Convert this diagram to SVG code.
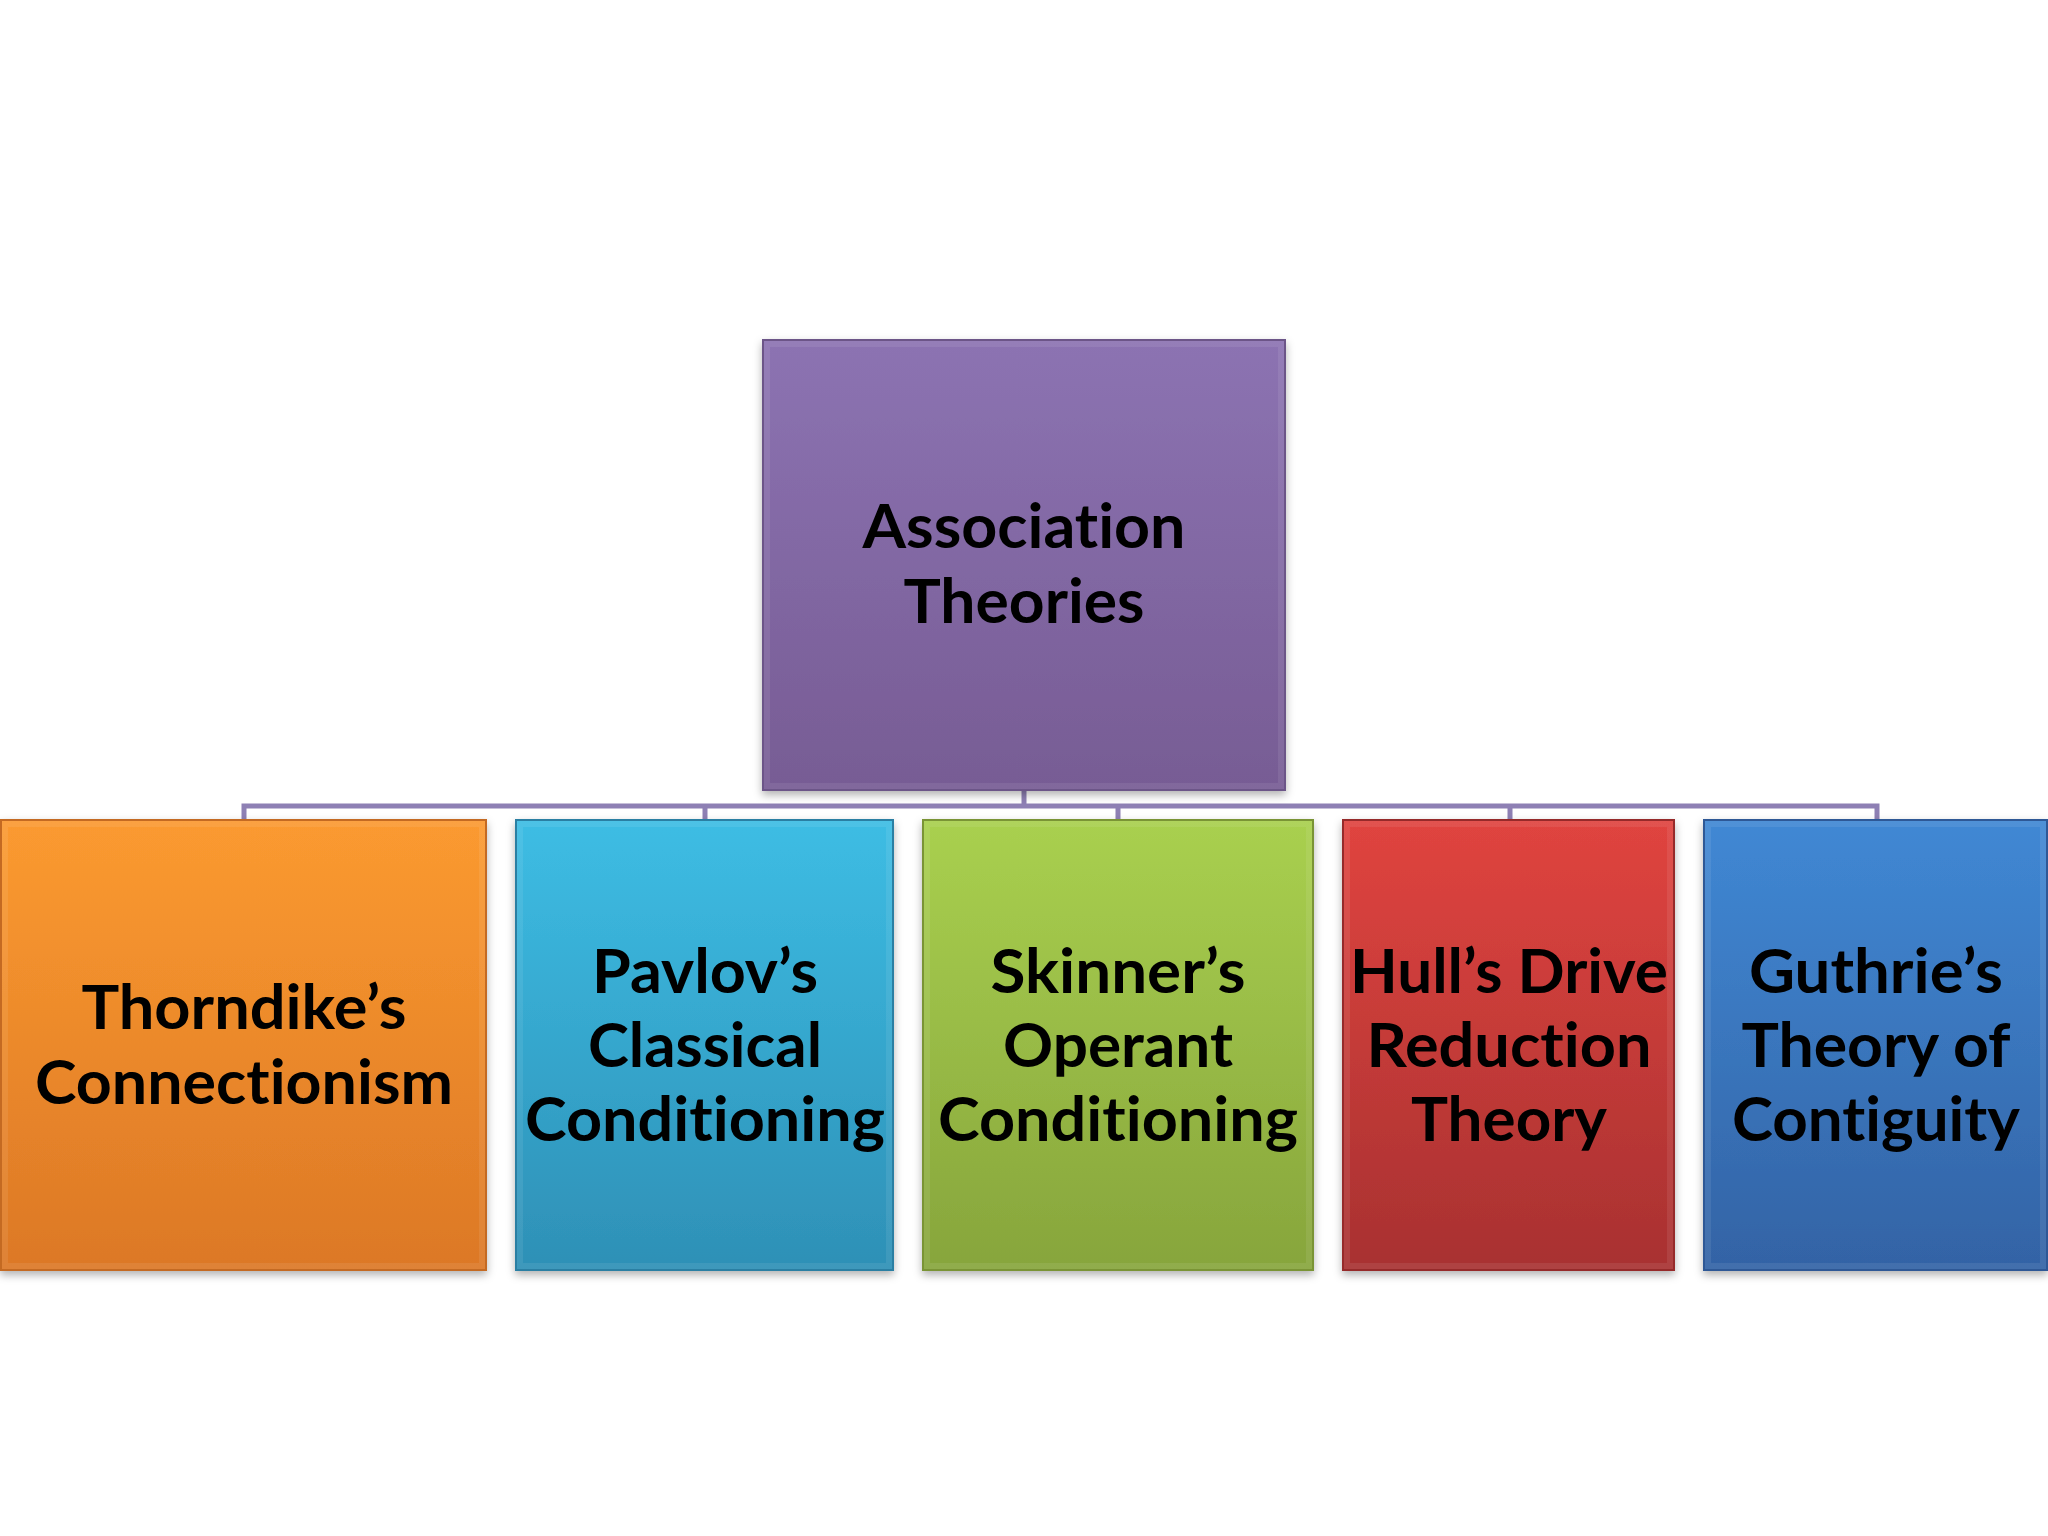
<svg xmlns="http://www.w3.org/2000/svg" width="2048" height="1536" viewBox="0 0 2048 1536">
<defs>
<linearGradient id="gPurple" x1="0" y1="0" x2="0" y2="1"><stop offset="0" stop-color="#8c73b2"/><stop offset="1" stop-color="#775c94"/></linearGradient>
<linearGradient id="gOrange" x1="0" y1="0" x2="0" y2="1"><stop offset="0" stop-color="#fb9a30"/><stop offset="1" stop-color="#dc7826"/></linearGradient>
<linearGradient id="gCyan" x1="0" y1="0" x2="0" y2="1"><stop offset="0" stop-color="#3dbde4"/><stop offset="1" stop-color="#2e90b6"/></linearGradient>
<linearGradient id="gGreen" x1="0" y1="0" x2="0" y2="1"><stop offset="0" stop-color="#a9d04f"/><stop offset="1" stop-color="#87a53c"/></linearGradient>
<linearGradient id="gRed" x1="0" y1="0" x2="0" y2="1"><stop offset="0" stop-color="#e0443f"/><stop offset="1" stop-color="#a83131"/></linearGradient>
<linearGradient id="gBlue" x1="0" y1="0" x2="0" y2="1"><stop offset="0" stop-color="#4088d4"/><stop offset="1" stop-color="#3363a5"/></linearGradient>
<filter id="shadow" x="-5%" y="-5%" width="110%" height="112%">
<feDropShadow dx="0" dy="4" stdDeviation="4" flood-color="#000" flood-opacity="0.3"/>
</filter>
</defs>
<style>
.box{filter:url(#shadow);stroke-width:2}
.bevel{fill:none;stroke:#ffffff;stroke-opacity:0.08;stroke-width:6}
.lbl{font-family:Lato,"Open Sans","Liberation Sans",sans-serif;font-weight:bold;font-size:62px;fill:#000;text-anchor:middle;font-variant-ligatures:none;font-feature-settings:"liga" 0,"clig" 0,"dlig" 0}
.conn{fill:none;stroke:#8e80b4;stroke-width:5}
</style>
<rect width="2048" height="1536" fill="#ffffff"/>
<g id="connectors">
<path class="conn" d="M1024 790 V806 M244 820 V806 H1877 V820 M705 806 V820 M1118 806 V820 M1510 806 V820"/>
</g>
<g id="node-association">
<rect class="box" x="763" y="340" width="522" height="450" fill="url(#gPurple)" stroke="#6c5488"/>
<rect class="bevel" x="767" y="344" width="514" height="442"/>
<text class="lbl" x="1024" y="548" textLength="323" lengthAdjust="spacingAndGlyphs">Association</text>
<text class="lbl" x="1024" y="623" textLength="241" lengthAdjust="spacingAndGlyphs">Theories</text>
</g>
<g id="node-thorndike">
<rect class="box" x="1" y="820" width="485" height="450" fill="url(#gOrange)" stroke="#c46a20"/>
<rect class="bevel" x="5" y="824" width="477" height="442"/>
<text class="lbl" x="244" y="1029" textLength="325" lengthAdjust="spacingAndGlyphs">Thorndike’s</text>
<text class="lbl" x="244" y="1104" textLength="418" lengthAdjust="spacingAndGlyphs">Connectionism</text>
</g>
<g id="node-pavlov">
<rect class="box" x="516" y="820" width="377" height="450" fill="url(#gCyan)" stroke="#2a7fa3"/>
<rect class="bevel" x="520" y="824" width="369" height="442"/>
<text class="lbl" x="705" y="993" textLength="226" lengthAdjust="spacingAndGlyphs">Pavlov’s</text>
<text class="lbl" x="705" y="1067" textLength="234" lengthAdjust="spacingAndGlyphs">Classical</text>
<text class="lbl" x="705" y="1141" textLength="360" lengthAdjust="spacingAndGlyphs">Conditioning</text>
</g>
<g id="node-skinner">
<rect class="box" x="923" y="820" width="390" height="450" fill="url(#gGreen)" stroke="#7a9436"/>
<rect class="bevel" x="927" y="824" width="382" height="442"/>
<text class="lbl" x="1118" y="993" textLength="255" lengthAdjust="spacingAndGlyphs">Skinner’s</text>
<text class="lbl" x="1118" y="1067" textLength="230" lengthAdjust="spacingAndGlyphs">Operant</text>
<text class="lbl" x="1118" y="1141" textLength="360" lengthAdjust="spacingAndGlyphs">Conditioning</text>
</g>
<g id="node-hull">
<rect class="box" x="1343" y="820" width="331" height="450" fill="url(#gRed)" stroke="#962b2b"/>
<rect class="bevel" x="1347" y="824" width="323" height="442"/>
<text class="lbl" x="1509" y="993" textLength="318" lengthAdjust="spacingAndGlyphs">Hull’s Drive</text>
<text class="lbl" x="1509" y="1067" textLength="285" lengthAdjust="spacingAndGlyphs">Reduction</text>
<text class="lbl" x="1509" y="1141" textLength="196" lengthAdjust="spacingAndGlyphs">Theory</text>
</g>
<g id="node-guthrie">
<rect class="box" x="1704" y="820" width="343" height="450" fill="url(#gBlue)" stroke="#2d5896"/>
<rect class="bevel" x="1708" y="824" width="335" height="442"/>
<text class="lbl" x="1876" y="993" textLength="254" lengthAdjust="spacingAndGlyphs">Guthrie’s</text>
<text class="lbl" x="1876" y="1067" textLength="269" lengthAdjust="spacingAndGlyphs">Theory of</text>
<text class="lbl" x="1876" y="1141" textLength="288" lengthAdjust="spacingAndGlyphs">Contiguity</text>
</g>
</svg>
